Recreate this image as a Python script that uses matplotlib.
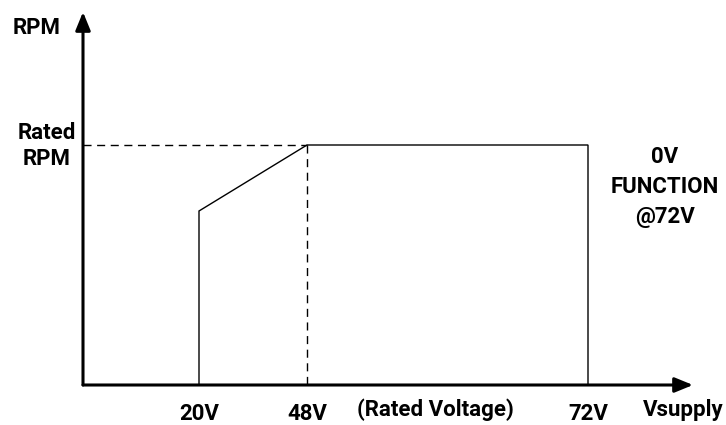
import numpy as np
import matplotlib
matplotlib.use("Agg")
import matplotlib.pyplot as plt

# ---- data ----
voltage = [20, 20, 48, 72, 72]          # V
rpm = [0.0, 0.725, 1.0, 1.0, 0.0]       # fraction of rated RPM
rated_voltage = 48
rated_rpm = 1.0
tick_volts = [20, 48, 72]
tick_labels = ["20V", "48V", "72V"]

# ---- schematic (non-linear) voltage axis ----
_bp_v = np.array([0, 20, 48, 72, 120], dtype=float)
_bp_p = np.array([0, 116, 224, 505, 505 + 48 * 11.75], dtype=float)
fwd = lambda v: np.interp(v, _bp_v, _bp_p)
inv = lambda p: np.interp(p, _bp_p, _bp_v)

W, H = 726, 425
fig = plt.figure(figsize=(W / 100, H / 100), dpi=100)
plt.rcParams['font.family'] = ['Roboto', 'DejaVu Sans']
FS = 16
FW = 'bold'

x0, x1 = 83, 693
y0, y1 = 385, 12
ax = fig.add_axes([x0 / W, (H - y0) / H, (x1 - x0) / W, (y0 - y1) / H])
ax.set_xscale('function', functions=(fwd, inv))
ax.set_xlim(0, inv(x1 - x0))
ax.set_ylim(0, (y0 - y1) / (y0 - 145))
for s in ax.spines.values():
    s.set_visible(False)
ax.patch.set_alpha(0)

# curve
ax.plot(voltage, rpm, color='black', lw=1.0, solid_joinstyle='miter')
# dashed guides
ax.plot([0, rated_voltage], [rated_rpm, rated_rpm], color='black', lw=1.0,
        dashes=(5.8, 4))
ax.plot([rated_voltage, rated_voltage], [rated_rpm, 0], color='black', lw=1.0,
        dashes=(5.8, 4))

# axes arrows
arrow_kw = dict(arrowstyle='-|>,head_length=1.1,head_width=0.45', color='black',
                lw=2.2, shrinkA=0, shrinkB=0)
ax.annotate('', xy=(1.0, 0), xytext=(0, 0), xycoords='axes fraction',
            arrowprops=arrow_kw, annotation_clip=False)
ax.annotate('', xy=(0, 1.0), xytext=(0, 0), xycoords='axes fraction',
            arrowprops=arrow_kw, annotation_clip=False)

# ticks
ax.set_xticks(tick_volts)
ax.set_xticklabels(tick_labels, fontsize=FS, fontweight=FW)
ax.tick_params(axis='x', length=0, pad=13)
ax.set_yticks([])

def ftxt(x, y, s, **kw):
    fig.text(x / W, 1 - y / H, s, fontsize=FS, fontweight=FW,
             ha='center', va='center', **kw)

ftxt(435, 410, "(Rated Voltage)")
ftxt(683, 410, "Vsupply")
ftxt(37, 28, "RPM")
ftxt(47, 146, "Rated\nRPM", linespacing=1.2)
ftxt(665, 187, "0V\nFUNCTION\n@72V", linespacing=1.45)

fig.savefig("out.png", dpi=100)
